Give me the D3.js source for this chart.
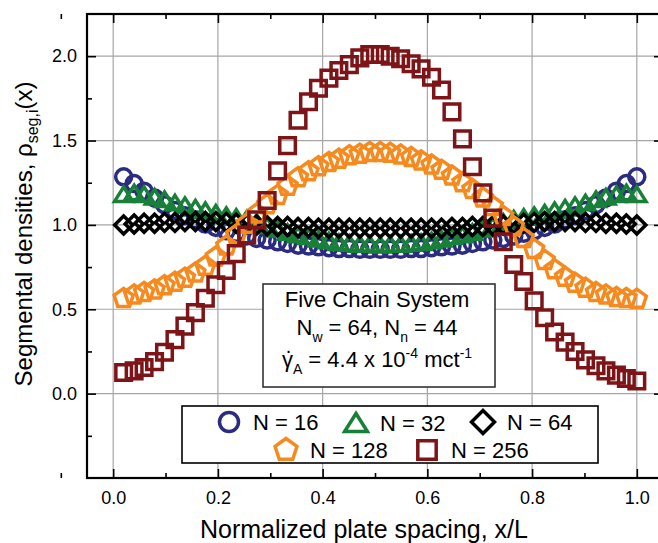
<!DOCTYPE html>
<html>
<head>
<meta charset="utf-8">
<script src="https://cdn.jsdelivr.net/npm/d3@7"></script>
<style>
  body { margin: 0; background: #fff; }
  text { font-family: "Liberation Sans", Arial, sans-serif; fill: #000; }
</style>
</head>
<body>
<div id="chart"></div>
<script>
// normalized plate spacing x/L (same grid for every chain length)
const xs = [0.020, 0.040, 0.059, 0.079, 0.098, 0.118, 0.137, 0.157, 0.176, 0.196,
            0.216, 0.235, 0.255, 0.274, 0.294, 0.314, 0.333, 0.353, 0.373, 0.392,
            0.412, 0.431, 0.451, 0.471, 0.490, 0.510, 0.529, 0.549, 0.569, 0.588,
            0.608, 0.627, 0.647, 0.667, 0.686, 0.706, 0.725, 0.745, 0.765, 0.784,
            0.804, 0.824, 0.843, 0.863, 0.882, 0.902, 0.922, 0.941, 0.961, 0.980, 1.000];

const n16 = [1.285, 1.245, 1.20, 1.16, 1.12, 1.085, 1.055, 1.03, 1.005, 0.985,
             0.965, 0.95, 0.935, 0.92, 0.91, 0.90, 0.89, 0.88, 0.875, 0.87,
             0.865, 0.86, 0.86, 0.855, 0.855, 0.855, 0.855, 0.855, 0.86, 0.86,
             0.865, 0.87, 0.875, 0.88, 0.89, 0.90, 0.91, 0.92, 0.935, 0.95,
             0.965, 0.985, 1.005, 1.03, 1.055, 1.085, 1.12, 1.16, 1.20, 1.245, 1.285];

const n32 = [1.18, 1.19, 1.18, 1.165, 1.15, 1.13, 1.115, 1.10, 1.085, 1.07,
             1.055, 1.045, 1.035, 1.015, 0.995, 0.975, 0.955, 0.94, 0.93, 0.915,
             0.905, 0.895, 0.89, 0.885, 0.885, 0.88, 0.885, 0.885, 0.89, 0.895,
             0.905, 0.915, 0.93, 0.94, 0.955, 0.975, 0.995, 1.015, 1.035, 1.045,
             1.055, 1.07, 1.085, 1.10, 1.115, 1.13, 1.15, 1.165, 1.18, 1.19, 1.18];

const n64 = [1.00, 1.005, 1.01, 1.01, 1.015, 1.015, 1.02, 1.02, 1.02, 1.02,
             1.015, 1.01, 1.005, 1.00, 0.995, 0.99, 0.99, 0.985, 0.985, 0.98,
             0.98, 0.98, 0.98, 0.98, 0.98, 0.98, 0.98, 0.98, 0.98, 0.98,
             0.98, 0.98, 0.985, 0.985, 0.99, 0.99, 0.995, 1.00, 1.005, 1.01,
             1.015, 1.02, 1.02, 1.02, 1.02, 1.015, 1.015, 1.01, 1.01, 1.005, 1.00];

const n128 = [0.565, 0.585, 0.60, 0.615, 0.64, 0.66, 0.685, 0.715, 0.755, 0.81,
              0.875, 0.94, 1.005, 1.065, 1.12, 1.175, 1.23, 1.28, 1.315, 1.345,
              1.37, 1.39, 1.41, 1.42, 1.43, 1.43, 1.425, 1.415, 1.40, 1.38,
              1.355, 1.325, 1.29, 1.25, 1.21, 1.16, 1.11, 1.05, 0.99, 0.92,
              0.855, 0.79, 0.735, 0.69, 0.655, 0.625, 0.60, 0.585, 0.57, 0.565, 0.56];

const n256 = [0.125, 0.135, 0.155, 0.19, 0.245, 0.32, 0.40, 0.48, 0.565, 0.645,
              0.73, 0.83, 0.94, 1.03, 1.145, 1.32, 1.47, 1.62, 1.73, 1.81,
              1.87, 1.915, 1.95, 1.99, 2.01, 2.01, 2.00, 1.985, 1.955, 1.925,
              1.875, 1.80, 1.67, 1.51, 1.345, 1.19, 1.04, 0.90, 0.765, 0.665,
              0.55, 0.45, 0.365, 0.305, 0.25, 0.20, 0.165, 0.135, 0.11, 0.09, 0.075];

const seriesLabels = ["N = 16", "N = 32", "N = 64", "N = 128", "N = 256"];
const xMajor = [0, 0.2, 0.4, 0.6, 0.8, 1.0];
const xMinor = [-0.1, 0.1, 0.3, 0.5, 0.7, 0.9];
const yMajor = [0, 0.5, 1.0, 1.5, 2.0];
const yMinor = [-0.25, 0.25, 0.75, 1.25, 1.75];

// custom symbols, size = half extent in px
const symCircle = { draw(c, r) { c.moveTo(r, 0); c.arc(0, 0, r, 0, 2 * Math.PI); } };
const symTriangle = { draw(c, r) { c.moveTo(0, -r); c.lineTo(1.2 * r, 0.9 * r); c.lineTo(-1.2 * r, 0.9 * r); c.closePath(); } };
const symDiamond = { draw(c, r) { c.moveTo(0, -r); c.lineTo(r, 0); c.lineTo(0, r); c.lineTo(-r, 0); c.closePath(); } };
const symSquare = { draw(c, r) { c.rect(-r, -r, 2 * r, 2 * r); } };
const symPentagon = { draw(c, r) {
  for (let k = 0; k < 5; k++) {
    const a = -Math.PI / 2 + k * 2 * Math.PI / 5;
    if (k === 0) c.moveTo(r * Math.cos(a), r * Math.sin(a));
    else c.lineTo(r * Math.cos(a), r * Math.sin(a));
  }
  c.closePath();
} };

const series = [
  { label: seriesLabels[0], values: n16,  color: "#2b2b80", type: symCircle,   r: 8,   lr: 9.5 },
  { label: seriesLabels[1], values: n32,  color: "#188038", type: symTriangle, r: 7.6, lr: 9.5 },
  { label: seriesLabels[2], values: n64,  color: "#000000", type: symDiamond,  r: 9,   lr: 11.5 },
  { label: seriesLabels[3], values: n128, color: "#f68a1e", type: symPentagon, r: 10,  lr: 11.5 },
  { label: seriesLabels[4], values: n256, color: "#7d1518", type: symSquare,   r: 7.8, lr: 9.2 }
];

const W = 658, H = 543;
const margin = { top: 14, left: 87 };
const width = 576, height = 464;

const svg = d3.select("#chart").append("svg")
  .attr("width", W).attr("height", H);

const g = svg.append("g").attr("transform", `translate(${margin.left},${margin.top})`);

const x = d3.scaleLinear().domain([-0.05, 1.05]).range([0, width]);
const y = d3.scaleLinear().domain([-0.5, 2.25]).range([height, 0]);

// grid
g.append("g").selectAll("line").data(xMajor).join("line")
  .attr("x1", d => x(d)).attr("x2", d => x(d)).attr("y1", 0).attr("y2", height)
  .attr("stroke", "#a6a6a6").attr("stroke-width", 1.2);
g.append("g").selectAll("line").data(yMajor).join("line")
  .attr("y1", d => y(d)).attr("y2", d => y(d)).attr("x1", 0).attr("x2", width)
  .attr("stroke", "#a6a6a6").attr("stroke-width", 1.2);

// axes: ticks point inward on all four sides
function styleAxis(sel) {
  sel.select(".domain").remove();
  sel.selectAll(".tick line").attr("stroke", "#000").attr("stroke-width", 1.6);
  sel.selectAll("text").style("font-size", "18px").attr("fill", "#000");
}
const fmt = d3.format(".1f");

g.append("g").attr("transform", `translate(0,${height})`)
  .call(d3.axisBottom(x).tickValues(xMajor).tickSizeInner(-9).tickSizeOuter(0).tickPadding(13).tickFormat(fmt))
  .call(styleAxis);
g.append("g").attr("transform", `translate(0,${height})`)
  .call(d3.axisBottom(x).tickValues(xMinor).tickSizeInner(-5).tickSizeOuter(0).tickFormat(""))
  .call(styleAxis);
g.append("g")
  .call(d3.axisTop(x).tickValues(xMajor).tickSizeInner(-9).tickSizeOuter(0).tickFormat(""))
  .call(styleAxis);
g.append("g")
  .call(d3.axisTop(x).tickValues(xMinor).tickSizeInner(-5).tickSizeOuter(0).tickFormat(""))
  .call(styleAxis);

g.append("g")
  .call(d3.axisLeft(y).tickValues(yMajor).tickSizeInner(-9).tickSizeOuter(0).tickPadding(10).tickFormat(fmt))
  .call(styleAxis);
g.append("g")
  .call(d3.axisLeft(y).tickValues(yMinor).tickSizeInner(-5).tickSizeOuter(0).tickFormat(""))
  .call(styleAxis);
g.append("g").attr("transform", `translate(${width},0)`)
  .call(d3.axisRight(y).tickValues(yMajor).tickSizeInner(-9).tickSizeOuter(0).tickFormat(""))
  .call(styleAxis);
g.append("g").attr("transform", `translate(${width},0)`)
  .call(d3.axisRight(y).tickValues(yMinor).tickSizeInner(-5).tickSizeOuter(0).tickFormat(""))
  .call(styleAxis);

// frame
g.append("rect").attr("width", width).attr("height", height)
  .attr("fill", "none").attr("stroke", "#000").attr("stroke-width", 2.2);

// markers
const sym = d3.symbol();
series.forEach(s => {
  g.append("g").selectAll("path").data(xs.map((xv, i) => [xv, s.values[i]])).join("path")
    .attr("transform", d => `translate(${x(d[0])},${y(d[1])})`)
    .attr("d", sym.type(s.type).size(s.r)())
    .attr("fill", "none").attr("stroke", s.color).attr("stroke-width", 3.5);
});

// annotation box
const box = svg.append("g");
box.append("rect").attr("x", 263).attr("y", 284).attr("width", 232).attr("height", 103)
  .attr("fill", "#fff").attr("stroke", "#333").attr("stroke-width", 1.6);
const bx = 377;
box.append("text").attr("x", bx).attr("y", 307).attr("text-anchor", "middle")
  .style("font-size", "22px").text("Five Chain System");
const l2 = box.append("text").attr("x", bx).attr("y", 335).attr("text-anchor", "middle").style("font-size", "22px");
l2.append("tspan").text("N");
l2.append("tspan").attr("dy", 7).style("font-size", "14px").text("w");
l2.append("tspan").attr("dy", -7).text(" = 64, N");
l2.append("tspan").attr("dy", 7).style("font-size", "14px").text("n");
l2.append("tspan").attr("dy", -7).text(" = 44");
const l3 = box.append("text").attr("x", bx).attr("y", 367).attr("text-anchor", "middle").style("font-size", "22px");
l3.append("tspan").text("γ");
l3.append("tspan").attr("dy", 7).style("font-size", "14px").text("A");
l3.append("tspan").attr("dy", -7).text(" = 4.4 x 10");
l3.append("tspan").attr("dy", -9).style("font-size", "14px").text("-4");
l3.append("tspan").attr("dy", 9).text(" mct");
l3.append("tspan").attr("dy", -9).style("font-size", "14px").text("-1");
// dot over gamma (time derivative), kept inside the same text element
const gp = l3.node().getStartPositionOfChar(0);
const gw = l3.node().getSubStringLength(0, 1);
l3.append("tspan").attr("x", gp.x + gw / 2 + 1).attr("y", 353)
  .style("font-size", "20px").text(".");

// legend
const leg = svg.append("g");
leg.append("rect").attr("x", 182).attr("y", 406).attr("width", 416).attr("height", 57)
  .attr("fill", "#fff").attr("stroke", "#000").attr("stroke-width", 1.6);
const legPos = [[229, 422], [356, 423], [483, 422], [286, 450], [427, 450]];
series.forEach((s, i) => {
  const [lx, ly] = legPos[i];
  leg.append("path").attr("transform", `translate(${lx},${ly})`)
    .attr("d", sym.type(s.type).size(s.lr)())
    .attr("fill", "none").attr("stroke", s.color).attr("stroke-width", 3.5);
  leg.append("text").attr("x", lx + 24).attr("y", ly + 8)
    .style("font-size", "22px").text(s.label);
});

// axis titles
svg.append("text").attr("x", 364).attr("y", 538).attr("text-anchor", "middle")
  .style("font-size", "25px").text("Normalized plate spacing, x/L");

const yt = svg.append("text").attr("transform", "translate(32,234) rotate(-90)")
  .attr("text-anchor", "middle").style("font-size", "24px");
yt.append("tspan").text("Segmental densities, ρ");
yt.append("tspan").attr("dy", 6).style("font-size", "16px").text("seg,i");
yt.append("tspan").attr("dy", -6).text("(x)");
</script>
</body>
</html>
